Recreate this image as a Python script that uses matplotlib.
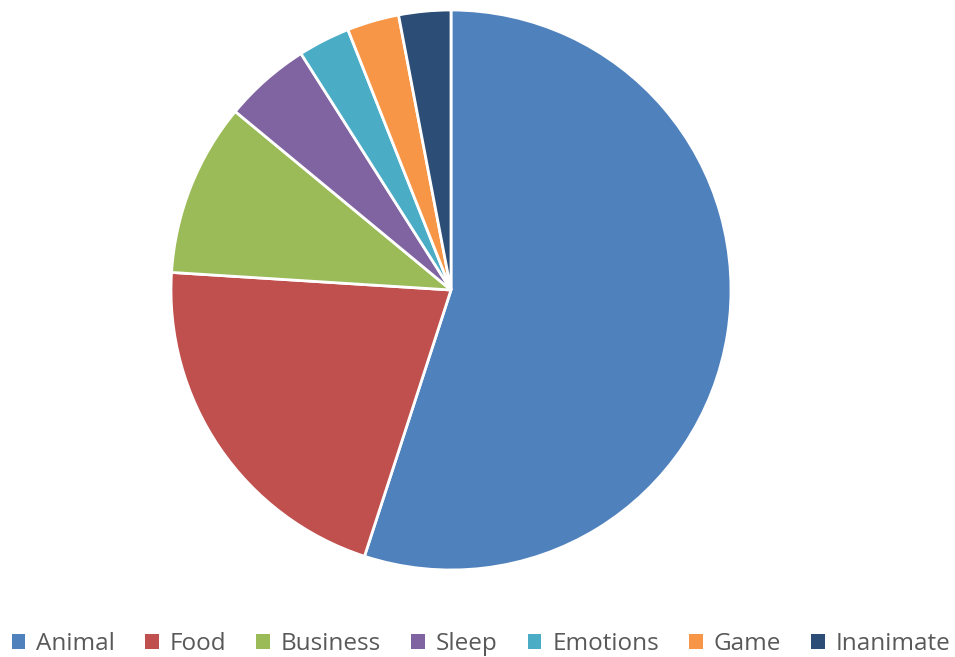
import matplotlib
matplotlib.use("Agg")
import matplotlib.pyplot as plt
from matplotlib.patches import Patch

categories = ["Animal", "Food", "Business", "Sleep", "Emotions", "Game", "Inanimate"]
values = [55, 21, 10, 5, 3, 3, 3]
colors = ["#4F81BD", "#C0504D", "#9BBB59", "#8064A2", "#4BACC6", "#F79646", "#2C4D75"]

W, H = 955, 657
fig = plt.figure(figsize=(W / 100, H / 100), dpi=100)
cx, cy, r = 451, 290, 280
ax = fig.add_axes([(cx - r) / W, (H - cy - r) / H, 2 * r / W, 2 * r / H])
ax.pie(values, colors=colors, startangle=90, counterclock=False,
       wedgeprops=dict(edgecolor="white", linewidth=2))
ax.set_aspect("equal")
ax.set_xlim(-1, 1)
ax.set_ylim(-1, 1)

handles = [Patch(facecolor=c, edgecolor="none") for c in colors]
leg = fig.legend(handles, categories, loc="center", bbox_to_anchor=(481 / W, (H - 644) / H),
                 ncol=7, frameon=False, handlelength=0.55, handleheight=0.55,
                 handletextpad=0.45, columnspacing=1.25, borderpad=0, borderaxespad=0,
                 prop=dict(family="Open Sans", size=17.5))
for t in leg.get_texts():
    t.set_color("#595959")

fig.savefig("out.png", dpi=100)
